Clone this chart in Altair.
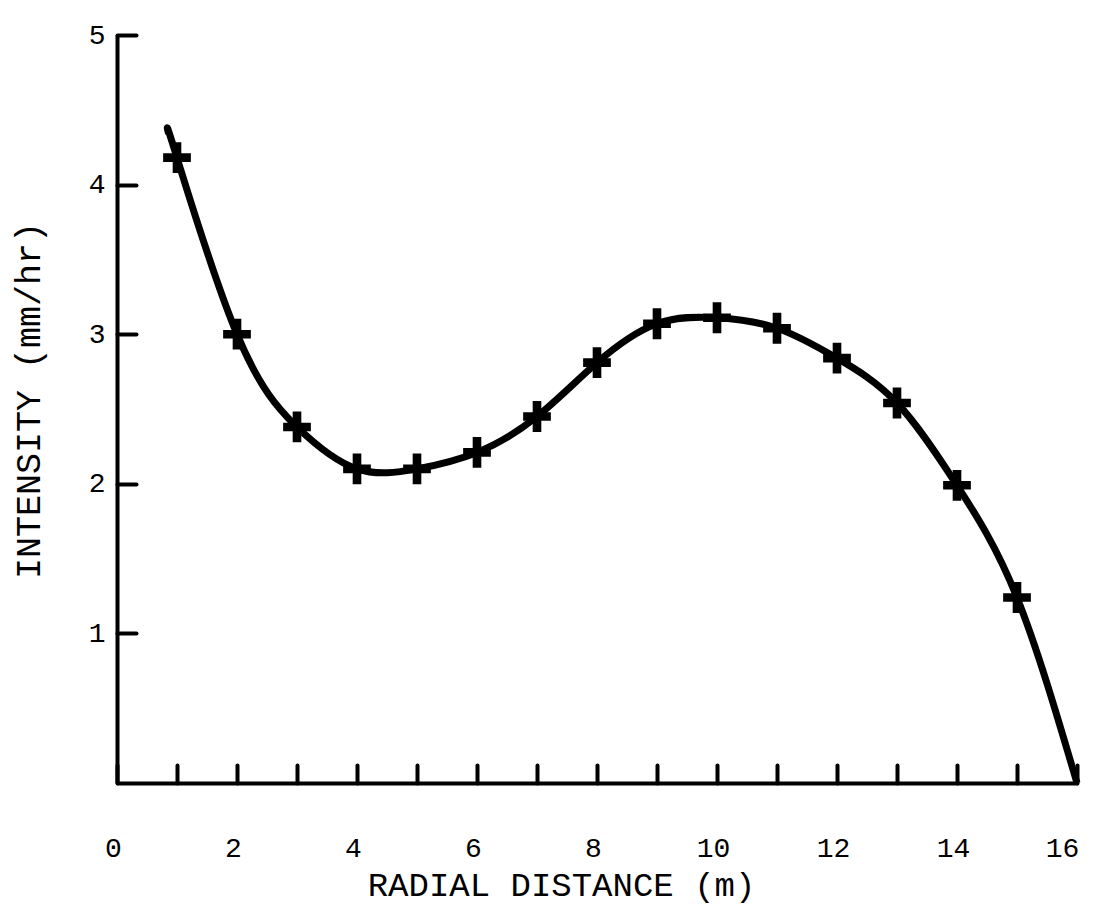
import altair as alt
import pandas as pd

# Marker data
dist = [1, 2, 3, 4, 5, 6, 7, 8, 9, 10, 11, 12, 13, 14, 15]
intensity = [4.18, 3.00, 2.38, 2.10, 2.10, 2.21, 2.45, 2.81, 3.07, 3.11, 3.04, 2.84, 2.54, 1.99, 1.24]

# Drawn curve: starts just left of the first marker and ends on the axis at 16
curve_x = [0.86, 1, 2, 3, 4, 5, 6, 7, 8, 9, 10, 11, 12, 13, 14, 15, 16]
curve_y = [4.34, 4.18, 3.00, 2.38, 2.10, 2.10, 2.21, 2.45, 2.81, 3.07, 3.11, 3.04, 2.84, 2.54, 1.99, 1.24, 0.0]

x_ticks = list(range(0, 17))
y_ticks = [1, 2, 3, 4, 5]

FONT = "Liberation Mono"

pts = pd.DataFrame({"d": dist, "v": intensity})
crv = pd.DataFrame({"d": curve_x, "v": curve_y})

x_axis = alt.Axis(
    values=x_ticks,
    labelExpr="datum.value % 2 == 0 ? datum.label : ''",
    title="RADIAL DISTANCE (m)",
    grid=False,
    domainColor="black", domainWidth=4,
    tickColor="black", tickWidth=4, tickSize=alt.ExprRef(expr="-18"), tickCap="round",
    labelFont=FONT, labelFontSize=28, labelColor="black", labelPadding=69,
    labelOffset={"condition": {"test": "datum.value == 16", "value": -15}, "value": -4},
    labelAlign="center", labelBaseline="top",
    titleFont=FONT, titleFontSize=34, titleFontWeight="normal", titleColor="black",
    titleX=444, titleY=102, titleAnchor="middle", titleAlign="center", titleBaseline="middle",
)
y_axis = alt.Axis(
    values=y_ticks,
    title="INTENSITY (mm/hr)",
    grid=False,
    domainColor="black", domainWidth=4,
    tickColor="black", tickWidth=4, tickSize=alt.ExprRef(expr="-19"), tickCap="round",
    labelFont=FONT, labelFontSize=28, labelColor="black", labelPadding=31,
    labelAlign="right", labelBaseline="middle",
    titleFont=FONT, titleFontSize=35, titleFontWeight="normal", titleColor="black",
    titleX=-89, titleY=365, titleAngle=-90, titleAlign="center", titleBaseline="middle",
)

xs = alt.Scale(domain=[0, 16], nice=False, zero=False)
ys = alt.Scale(domain=[0, 5], nice=False, zero=True)

line = alt.Chart(crv).mark_line(
    color="black", strokeWidth=7, interpolate="natural", strokeCap="butt"
).encode(
    x=alt.X("d:Q", scale=xs, axis=x_axis),
    y=alt.Y("v:Q", scale=ys, axis=y_axis),
)

plus_path = "M-0.9,-0.28H-0.28V-1H0.28V-0.28H0.9V0.28H0.28V1H-0.28V0.28H-0.9Z"
markers = alt.Chart(pts).mark_point(
    shape=plus_path, filled=True, color="black", size=950, opacity=1
).encode(
    x=alt.X("d:Q", scale=xs, axis=x_axis),
    y=alt.Y("v:Q", scale=ys, axis=y_axis),
)

chart = alt.layer(line, markers).properties(
    width=960, height=748,
    autosize=alt.AutoSizeParams(type="none"),
    padding={"left": 109, "top": 27, "right": 11, "bottom": 124},
    background="white",
).configure_view(stroke=None)

chart.save("out.html", embed_options={"renderer": "svg", "actions": False})
